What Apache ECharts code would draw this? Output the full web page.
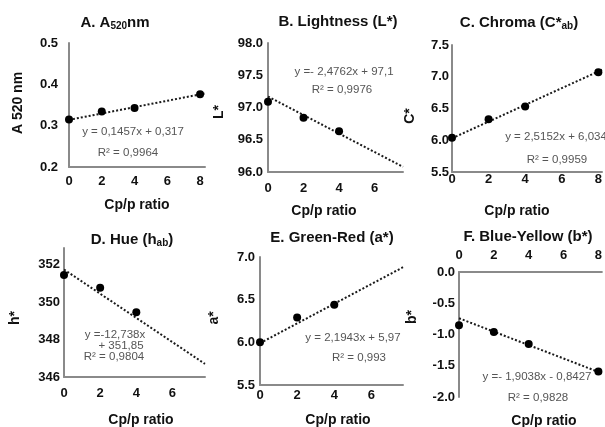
<!DOCTYPE html>
<html>
<head>
<meta charset="utf-8">
<script src="https://cdn.jsdelivr.net/npm/echarts@6/dist/echarts.min.js"></script>
<style>
  html, body { margin: 0; padding: 0; background: #fff; }
  #chart { width: 605px; height: 427px; }
</style>
</head>
<body>
<div id="chart"></div>
<script>
// Cp/p ratio values of the measured samples
const ratioFull = [0, 2, 4, 8];
const ratioShort = [0, 2, 4];

// measured values per panel
const a520 = [0.315, 0.334, 0.343, 0.376];
const lightness = [97.09, 96.84, 96.63];
const chroma = [6.04, 6.33, 6.53, 7.07];
const hue = [351.46, 350.78, 349.46];
const greenRed = [6.0, 6.29, 6.44];
const blueYellow = [-0.85, -0.96, -1.15, -1.59];

// dotted trend lines (start and end)
const trendAx = [0, 8.3], trendAy = [0.314, 0.378];
const trendBx = [0, 7.6], trendBy = [97.17, 96.08];
const trendCx = [0, 8.2], trendCy = [6.03, 7.11];
const trendDx = [0, 7.8], trendDy = [351.75, 346.7];
const trendEx = [0, 7.7], trendEy = [5.99, 6.88];
const trendFx = [0, 8.2], trendFy = [-0.74, -1.62];

// fitted equations printed in each panel
const eqA = ['y = 0,1457x + 0,317', 'R² = 0,9964'];
const eqB = ['y =- 2,4762x + 97,1', 'R² = 0,9976'];
const eqC = ['y = 2,5152x + 6,034', 'R² = 0,9959'];
const eqD = ['y =-12,738x', '+ 351,85', 'R² = 0,9804'];
const eqE = ['y = 2,1943x + 5,97', 'R² = 0,993'];
const eqF = ['y =- 1,9038x - 0,8427', 'R² = 0,9828'];

const FONT = '"Liberation Sans", Arial, sans-serif';
const chart = echarts.init(document.getElementById('chart'));

function pairs(xs, ys) {
  return xs.map((x, i) => [x, ys[i]]);
}

// keep labels only on the regular ticks (hide the extent end)
function stepFmt(step, dec) {
  return function (v) {
    const r = v / step;
    if (Math.abs(r - Math.round(r)) > 1e-6) return '';
    return dec ? v.toFixed(dec) : String(Math.round(v));
  };
}

const axisLine = { show: true, lineStyle: { color: '#8a8a8a', width: 2 } };
const labelBase = { color: '#111', fontWeight: 'bold', fontSize: 13, fontFamily: FONT };

function xAxis(gi, max, margin, pos) {
  return {
    type: 'value', gridIndex: gi, min: 0, max: max, interval: 2,
    position: pos || 'bottom',
    axisLine: Object.assign({ onZero: false }, axisLine),
    axisTick: { show: false }, splitLine: { show: false },
    axisLabel: Object.assign({ margin: margin, formatter: stepFmt(2, 0) }, labelBase)
  };
}
function yAxis(gi, min, max, interval, dec, margin) {
  return {
    type: 'value', gridIndex: gi, min: min, max: max, interval: interval,
    axisLine: axisLine, axisTick: { show: false }, splitLine: { show: false },
    axisLabel: Object.assign({ margin: margin, formatter: stepFmt(interval, dec) }, labelBase)
  };
}

const grids = [
  { left: 69, top: 43, width: 136, height: 124 },
  { left: 268, top: 43, width: 135, height: 129 },
  { left: 452, top: 45, width: 153, height: 127 },
  { left: 64, top: 248, width: 141, height: 129 },
  { left: 260, top: 257, width: 143, height: 128 },
  { left: 459, top: 272, width: 146, height: 125 }
];

function pointSeries(gi, xs, ys) {
  return {
    type: 'scatter', xAxisIndex: gi, yAxisIndex: gi, data: pairs(xs, ys),
    symbolSize: 8, itemStyle: { color: '#000', opacity: 1 }, z: 3
  };
}
function trendSeries(gi, xs, ys) {
  return {
    type: 'line', xAxisIndex: gi, yAxisIndex: gi, data: pairs(xs, ys),
    symbol: 'none', lineStyle: { color: '#1a1a1a', width: 2, type: [2, 2] }, z: 2
  };
}

const subRich = {
  sub: { fontSize: 10, fontWeight: 'bold', fontFamily: FONT, color: '#111', padding: [7, 0, 0, 0] }
};
const titleStyle = { fontSize: 15, fontWeight: 'bold', fontFamily: FONT, color: '#111', rich: subRich };
function title(text, cx, cy) {
  return { text: text, left: cx, top: cy, textAlign: 'center', textVerticalAlign: 'middle', textStyle: titleStyle, padding: 0 };
}

function txt(s, x, y) {
  return {
    type: 'text', x: x, y: y,
    style: { text: s, fill: '#555', font: '11.5px ' + FONT, align: 'center', verticalAlign: 'middle' }
  };
}
function eqLines(lines, xs, ys) {
  return lines.map((s, i) => txt(s, xs[i], ys[i]));
}
function axisTitle(s, x, y, rotate) {
  return {
    type: 'text', x: x, y: y, rotation: rotate ? Math.PI / 2 : 0,
    style: { text: s, fill: '#111', font: 'bold 14px ' + FONT, align: 'center', verticalAlign: 'middle' }
  };
}

const option = {
  backgroundColor: '#fff',
  animation: false,
  title: [
    title('A. A{sub|520}nm', 115, 23),
    title('B. Lightness (L*)', 338, 22),
    title('C. Chroma (C*{sub|ab})', 519, 23),
    title('D. Hue (h{sub|ab})', 132, 240),
    title('E. Green-Red (a*)', 332, 238),
    title('F. Blue-Yellow (b*)', 528, 237)
  ],
  grid: grids,
  xAxis: [
    xAxis(0, 8.3, 8),
    xAxis(1, 7.6, 10),
    xAxis(2, 8.2, 1),
    xAxis(3, 7.8, 10),
    xAxis(4, 7.7, 4),
    xAxis(5, 8.2, 10, 'top')
  ],
  yAxis: [
    yAxis(0, 0.2, 0.5, 0.1, 1, 11),
    yAxis(1, 96, 98, 0.5, 1, 5),
    yAxis(2, 5.5, 7.5, 0.5, 1, 3),
    yAxis(3, 346, 352.9, 2, 0, 4),
    yAxis(4, 5.5, 7.0, 0.5, 1, 5),
    yAxis(5, -2, 0, 0.5, 1, 4)
  ],
  series: [
    trendSeries(0, trendAx, trendAy), pointSeries(0, ratioFull, a520),
    trendSeries(1, trendBx, trendBy), pointSeries(1, ratioShort, lightness),
    trendSeries(2, trendCx, trendCy), pointSeries(2, ratioFull, chroma),
    trendSeries(3, trendDx, trendDy), pointSeries(3, ratioShort, hue),
    trendSeries(4, trendEx, trendEy), pointSeries(4, ratioShort, greenRed),
    trendSeries(5, trendFx, trendFy), pointSeries(5, ratioFull, blueYellow)
  ],
  graphic: [].concat(
    eqLines(eqA, [133, 128], [132, 153]),
    eqLines(eqB, [344, 342], [72, 90]),
    eqLines(eqC, [556, 557], [137, 160]),
    eqLines(eqD, [115, 121, 114], [335, 346, 357]),
    eqLines(eqE, [353, 359], [338, 358]),
    eqLines(eqF, [537, 538], [377, 398]),
    [
      axisTitle('A 520 nm', 18, 103, true),
      axisTitle('L*', 219, 112, true),
      axisTitle('C*', 410, 116, true),
      axisTitle('h*', 15, 318, true),
      axisTitle('a*', 214, 318, true),
      axisTitle('b*', 412, 317, true),
      axisTitle('Cp/p ratio', 137, 205),
      axisTitle('Cp/p ratio', 324, 211),
      axisTitle('Cp/p ratio', 517, 211),
      axisTitle('Cp/p ratio', 141, 420),
      axisTitle('Cp/p ratio', 338, 420),
      axisTitle('Cp/p ratio', 544, 421)
    ]
  )
};

chart.setOption(option);
</script>
</body>
</html>
